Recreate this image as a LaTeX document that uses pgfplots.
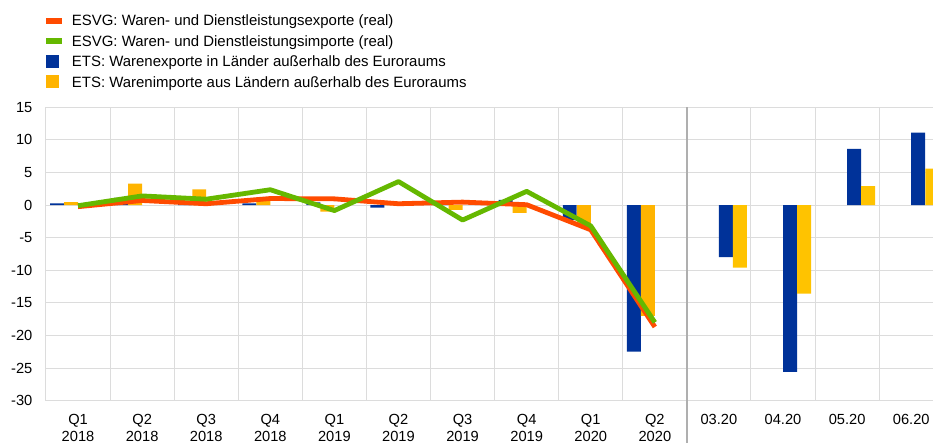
\documentclass[border=0pt]{standalone}
\usepackage{fontspec}
\setmainfont{Liberation Sans}
\usepackage{pgfplots}
\usepackage{pgfplotstable}
\pgfplotsset{compat=1.18}
\definecolor{ecbblue}{HTML}{003299}
\definecolor{ecbyellow}{HTML}{FFB400}
\definecolor{ecbyellowm}{HTML}{FFC300}
\definecolor{ecborange}{HTML}{FF4B00}
\definecolor{ecbgreen}{HTML}{65B800}
\definecolor{gridgray}{HTML}{DCDCDC}
\definecolor{sepgray}{HTML}{AFAFAF}

\pgfplotstableread{
x blue yellow
0 0.26 0.45
1 1.1 3.3
2 0.3 2.4
3 0.26 0.7
4 0.4 -1.0
5 -0.4 0.2
6 0.2 -0.75
7 0.8 -1.2
8 -2.3 -3.0
9 -22.5 -17.0
}\quarterly
\pgfplotstableread{
x blue yellow
10 -8.0 -9.6
11 -25.6 -13.6
12 8.6 2.9
13 11.1 5.6
}\monthly
\pgfplotstableread{
x exports imports
0 -0.25 -0.1
1 0.7 1.4
2 0.2 0.9
3 1.0 2.35
4 0.95 -0.85
5 0.2 3.6
6 0.45 -2.3
7 0.05 2.1
8 -3.8 -3.2
9 -18.7 -18.0
}\lines

\begin{document}
\begin{tikzpicture}[font=\fontsize{11}{12.5}\selectfont]
\begin{axis}[
  at={(0,0)}, anchor=south west,
  scale only axis, width=665.25pt, height=220pt,
  xmin=-0.5, xmax=13.34, ymin=-30, ymax=15,
  ytick={-30,-25,...,15},
  xtick={0,...,13},
  xticklabels={{Q1\\2018},{Q2\\2018},{Q3\\2018},{Q4\\2018},{Q1\\2019},{Q2\\2019},{Q3\\2019},{Q4\\2019},{Q1\\2020},{Q2\\2020},{03.20},{04.20},{05.20},{06.20}},
  minor xtick={-0.5,0.5,...,12.5},
  xminorgrids=true, ymajorgrids=true, xmajorgrids=false,
  major grid style={gridgray, line width=0.75pt},
  minor grid style={gridgray, line width=0.75pt},
  major tick length=0pt, minor tick length=0pt,
  tick style={draw=none},
  axis line style={draw=none},
  /pgf/number format/assume math mode=true,
  xticklabel style={align=center, inner sep=0pt, anchor=north, yshift=-10.3pt, font=\fontsize{11}{12.5}\selectfont},
  yticklabel style={inner sep=0pt, anchor=east, xshift=-10pt, font=\fontsize{11}{12.5}\selectfont},
  legend style={at={(0,1)}, anchor=north west, yshift=69.9pt, draw=none, fill=none,
    inner sep=0pt, outer sep=0pt, row sep=5.55pt, column sep=7.5pt,
    font=\fontsize{11.2}{13}\selectfont,
    nodes={inner sep=0pt, text height=8pt, text depth=0pt}},
  legend cell align=left,
  clip=true,
]
\addlegendimage{draw=none, legend image code/.code={\path[draw=none,fill=none] (0pt,-4.875pt) rectangle (12pt,4.875pt); \fill[ecborange, draw=none] (0pt,-2.25pt) rectangle (12pt,2.25pt);}}
\addlegendentry{ESVG: Waren- und Dienstleistungsexporte (real)}
\addlegendimage{draw=none, legend image code/.code={\path[draw=none,fill=none] (0pt,-4.875pt) rectangle (12pt,4.875pt); \fill[ecbgreen, draw=none] (0pt,-2.25pt) rectangle (12pt,2.25pt);}}
\addlegendentry{ESVG: Waren- und Dienstleistungsimporte (real)}
\addlegendimage{draw=none, legend image code/.code={\path[draw=none,fill=none] (0pt,-4.875pt) rectangle (12pt,4.875pt); \fill[ecbblue, draw=none] (0pt,-4.875pt) rectangle (9.75pt,4.875pt);}}
\addlegendentry{ETS: Warenexporte in Länder außerhalb des Euroraums}
\addlegendimage{draw=none, legend image code/.code={\path[draw=none,fill=none] (0pt,-4.875pt) rectangle (12pt,4.875pt); \fill[ecbyellow, draw=none] (0pt,-4.875pt) rectangle (9.75pt,4.875pt);}}
\addlegendentry{ETS: Warenimporte aus Ländern außerhalb des Euroraums}

\addplot[ybar, bar width=0.218, bar shift=-0.328, fill=ecbblue, draw=none, forget plot] table[x=x, y=blue] {\quarterly};
\addplot[ybar, bar width=0.218, bar shift=-0.109, fill=ecbyellow, draw=none, forget plot] table[x=x, y=yellow] {\quarterly};
\addplot[ybar, bar width=0.218, bar shift=0.109, fill=ecbblue, draw=none, forget plot] table[x=x, y=blue] {\monthly};
\addplot[ybar, bar width=0.218, bar shift=0.328, fill=ecbyellowm, draw=none, forget plot] table[x=x, y=yellow] {\monthly};

\addplot[ecborange, line width=3.6pt, line join=round, no markers, forget plot] table[x=x, y=exports] {\lines};
\addplot[ecbgreen, line width=3.6pt, line join=round, no markers, forget plot] table[x=x, y=imports] {\lines};

\coordinate (septop) at (axis cs:9.5,15);
\end{axis}
\draw[sepgray, line width=1.5pt] (septop) -- (septop |- 0,-40pt);
\pgfresetboundingbox
\path[use as bounding box] (-34.5pt,-31.8pt) rectangle (665.25pt,300.45pt);
\end{tikzpicture}
\end{document}
